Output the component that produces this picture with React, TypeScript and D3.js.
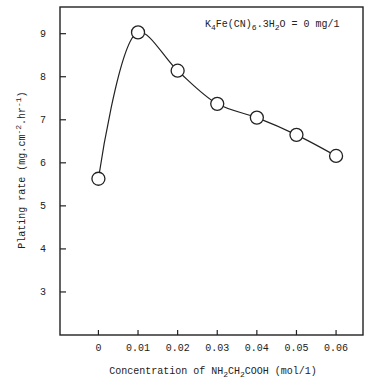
import React from "react";
import * as d3 from "d3";

// glycine concentration (mol/l) vs plating rate
const concentration = [0, 0.01, 0.02, 0.03, 0.04, 0.05, 0.06];
const platingRate = [5.63, 9.03, 8.14, 7.37, 7.05, 6.65, 6.16];
const xTicks = [0, 0.01, 0.02, 0.03, 0.04, 0.05, 0.06];
const xTickLabels = ["0", "0.01", "0.02", "0.03", "0.04", "0.05", "0.06"];
const yTicks = [3, 4, 5, 6, 7, 8, 9];

const FONT = "'Liberation Mono', 'DejaVu Sans Mono', monospace";

export default function App() {
  const width = 387;
  const height = 385;
  const left = 60, right = 363, top = 7, bottom = 335;

  const x = d3.scaleLinear().domain([-0.0097, 0.0668]).range([left, right]);
  const y = d3.scaleLinear().domain([2, 9.62]).range([bottom, top]);

  const line = d3
    .line<number>()
    .x((_, i) => x(concentration[i]))
    .y((d) => y(d))
    .curve(d3.curveCatmullRom.alpha(0.5));

  return (
    <svg
      width={width}
      height={height}
      style={{ position: "absolute", left: 0, top: 0, background: "#fff" }}
      fontFamily={FONT}
      fontSize={10}
    >
      {/* frame */}
      <rect x={left} y={top} width={right - left} height={bottom - top}
        fill="none" stroke="#222" strokeWidth={1.4} />

      {/* y ticks */}
      {yTicks.map((t) => (
        <g key={t}>
          <line x1={left} x2={left + 6} y1={y(t)} y2={y(t)} stroke="#222" strokeWidth={1.2} />
          <text x={left - 17} y={y(t)} dy="0.35em" textAnchor="middle" fill="#222">{t}</text>
        </g>
      ))}

      {/* x ticks */}
      {xTicks.map((t, i) => (
        <g key={t}>
          <line x1={x(t)} x2={x(t)} y1={bottom} y2={bottom - 5} stroke="#222" strokeWidth={1.2} />
          <text x={x(t)} y={bottom + 16} textAnchor="middle" fill="#222">{xTickLabels[i]}</text>
        </g>
      ))}

      {/* curve */}
      <path d={line(platingRate) ?? ""} fill="none" stroke="#222" strokeWidth={1.2} />
      {platingRate.map((v, i) => (
        <circle key={i} cx={x(concentration[i])} cy={y(v)} r={6.5}
          fill="#fff" stroke="#222" strokeWidth={1.3} />
      ))}

      {/* annotation */}
      <text x={205} y={27} fill="#222">
        K<tspan dy={3} fontSize={8}>4</tspan>
        <tspan dy={-3}>Fe(CN)</tspan>
        <tspan dy={3} fontSize={8}>6</tspan>
        <tspan dy={-3}>.3H</tspan>
        <tspan dy={3} fontSize={8}>2</tspan>
        <tspan dy={-3}>O = 0 mg/1</tspan>
      </text>

      {/* x label */}
      <text x={213} y={374} textAnchor="middle" fill="#222">
        Concentration of NH<tspan dy={3} fontSize={8}>2</tspan>
        <tspan dy={-3}>CH</tspan>
        <tspan dy={3} fontSize={8}>2</tspan>
        <tspan dy={-3}>COOH (mol/1)</tspan>
      </text>

      {/* y label */}
      <text transform="translate(25,170) rotate(-90)" textAnchor="middle" fill="#222">
        Plating rate (mg.cm<tspan dy={-4} fontSize={8}>-2</tspan>
        <tspan dy={4}>.hr</tspan>
        <tspan dy={-4} fontSize={8}>-1</tspan>
        <tspan dy={4}>)</tspan>
      </text>
    </svg>
  );
}
